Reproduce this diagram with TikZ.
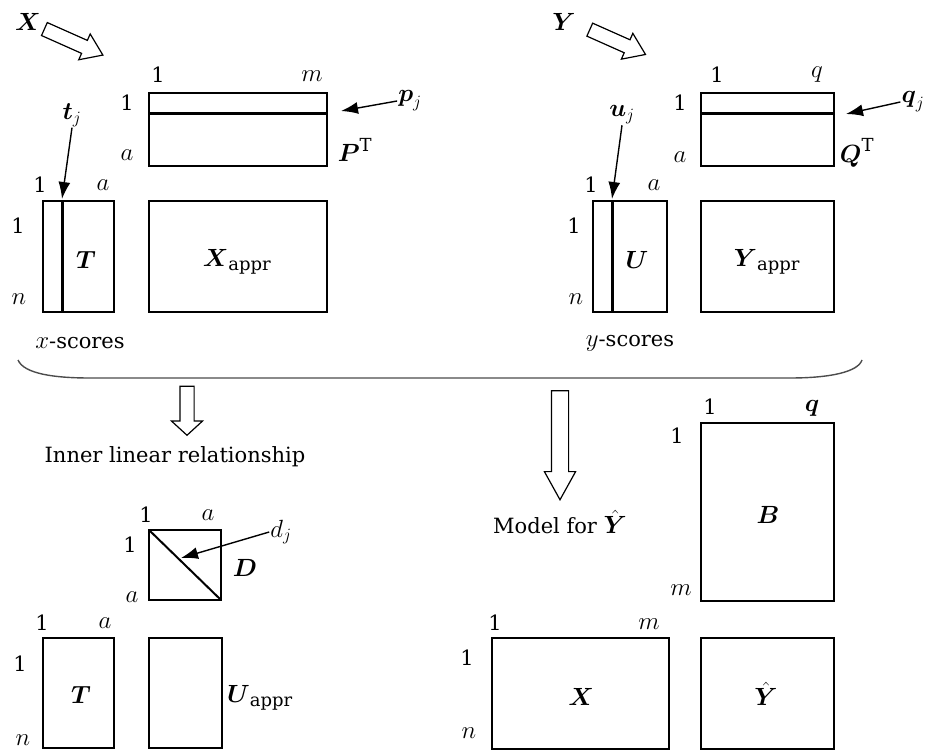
\documentclass[tikz,border=0pt]{standalone}
\usepackage{amsmath,amssymb}
\usepackage{fontspec}
\setmainfont{DejaVu Serif}
\usetikzlibrary{shapes.arrows,calc,arrows.meta}
\DeclareMathSizes{21}{24}{18}{14}

\begin{document}
\begin{tikzpicture}[x=1pt,y=-1pt,
    font=\fontsize{21}{25}\selectfont,
    every node/.style={inner sep=1pt},
    mat/.style={draw, line width=1.6pt, inner sep=0pt, outer sep=0pt, anchor=north west},
    ptr/.style={line width=1.4pt, -{Latex[length=17pt,width=12pt]}},
    bar/.style={line width=3pt},
    hollow/.style={single arrow, draw, line width=1.2pt, inner sep=6.5pt,
        single arrow head extend=7pt, single arrow tip angle=70}]
        \useasboundingbox (0,0) rectangle (929,751);
        % Input arrows
        \node (Xin) at (28,22) {$\boldsymbol{X}$};
        \node[hollow, minimum height=64pt, rotate=-24] (Xarr) at (69,40) {};
        \node (Yin) at (564,22) {$\boldsymbol{Y}$};
        \node[hollow, minimum height=61pt, rotate=-24] (Yarr) at (613,40) {};
        % Define matrices (x side)
        \node[mat, minimum width=178pt, minimum height=73pt] (PT) at (149,93) {};
        \node[mat, minimum width=71pt, minimum height=111pt] (T) at (43,201) {};
        \node[mat, minimum width=178pt, minimum height=111pt] (Xa) at (149,201) {};
        \draw[bar] ($(PT.north west)+(0,21)$) -- ($(PT.north east)+(0,21)$);
        \draw[bar] ($(T.north west)+(19,0)$) -- ($(T.south west)+(19,0)$);
        % Define matrices (y side)
        \node[mat, minimum width=133pt, minimum height=73pt] (QT) at (701,93) {};
        \node[mat, minimum width=74pt, minimum height=111pt] (U) at (593,201) {};
        \node[mat, minimum width=133pt, minimum height=111pt] (Ya) at (701,201) {};
        \draw[bar] ($(QT.north west)+(0,21)$) -- ($(QT.north east)+(0,21)$);
        \draw[bar] ($(U.north west)+(19,0)$) -- ($(U.south west)+(19,0)$);
        % Mark indices
        \node (PTc1) at (158,75) {1};
        \node (PTcm) at (312,76) {$m$};
        \node (PTr1) at (127,103) {1};
        \node (PTra) at (127,155) {$a$};
        \node (Tc1) at (40,185) {1};
        \node (Tca) at (103,185) {$a$};
        \node (Tr1) at (18,226) {1};
        \node (Trn) at (19,299) {$n$};
        \node (QTc1) at (717,75) {1};
        \node (QTcq) at (817,75) {$q$};
        \node (QTr1) at (680,103) {1};
        \node (QTra) at (680,157) {$a$};
        \node (Uc1) at (591,185) {1};
        \node (Uca) at (654,185) {$a$};
        \node (Ur1) at (574,226) {1};
        \node (Urn) at (576,299) {$n$};
        % Label the matrices
        \node (PTlab) at (355,150) {$\boldsymbol{P}^{\mathrm{T}}$};
        \node (Tlab) at (86,260) {$\boldsymbol{T}$};
        \node (Xalab) at (237,262) {$\boldsymbol{X}_{\mathrm{appr}}$};
        \node (QTlab) at (857,153) {$\boldsymbol{Q}^{\mathrm{T}}$};
        \node (Ulab) at (637,260) {$\boldsymbol{U}$};
        \node (Yalab) at (767,262) {$\boldsymbol{Y}_{\mathrm{appr}}$};
        \node (xsc) at (80,343) {$x$-scores};
        \node (ysc) at (630,343) {$y$-scores};
        % Pointers to the vectors
        \node (tj) at (72,115) {$\boldsymbol{t}_j$};
        \coordinate (tjtip) at (62,199);
        \draw[ptr] (tj.south) -- (tjtip);
        \node (pj) at (410,101) {$\boldsymbol{p}_j$};
        \coordinate (pjtip) at (341,111);
        \draw[ptr] (pj.west) -- (pjtip);
        \node (uj) at (622,115) {$\boldsymbol{u}_j$};
        \coordinate (ujtip) at (612,199);
        \draw[ptr] (uj.south) -- (ujtip);
        \node (qj) at (913,102) {$\boldsymbol{q}_j$};
        \coordinate (qjtip) at (846,114);
        \draw[ptr] (qj.west) -- (qjtip);
        % Brace
        \draw[line width=1.4pt, gray!60!black] (18,360) .. controls (24,374) and (55,378) .. (90,378)
        -- (790,378) .. controls (830,378) and (858,372) .. (862,360);
        % Down arrows
        \node[hollow, minimum height=49pt, rotate=-90, inner sep=6.5pt,
        single arrow head extend=8.5pt, single arrow tip angle=95] (inner) at (187,407.5) {};
        \node (innerlab) at (175,457) {Inner linear relationship};
        \node[hollow, minimum height=109pt, rotate=-90, inner sep=8pt,
        single arrow head extend=7pt, single arrow tip angle=58] (model) at (560,437.5) {};
        \node (modellab) at (560,522) {Model for $\hat{\boldsymbol{Y}}$};
        % Inner relation
        \node[mat, minimum width=72pt, minimum height=70pt] (D) at (149,530) {};
        \draw[line width=2pt] (D.north west) -- (D.south east);
        \node (Dc1) at (146,515) {1};
        \node (Dca) at (208,515) {$a$};
        \node (Dr1) at (130,545) {1};
        \node (Dra) at (132,597) {$a$};
        \node (Dlab) at (245,568) {$\boldsymbol{D}$};
        \node (dj) at (281,532) {$d_j$};
        \coordinate (djtip) at (181,558);
        \draw[ptr] (dj.west) -- (djtip);
        \node[mat, minimum width=71pt, minimum height=110pt] (T2) at (43,638) {};
        \node[mat, minimum width=73pt, minimum height=110pt] (Ua) at (149,638) {};
        \node (T2c1) at (42,623) {1};
        \node (T2ca) at (105,623) {$a$};
        \node (T2r1) at (20,664) {1};
        \node (T2rn) at (23,740) {$n$};
        \node (T2lab) at (81,695) {$\boldsymbol{T}$};
        \node (Ualab) at (260,698) {$\boldsymbol{U}_{\mathrm{appr}}$};
        % Model for Y hat
        \node[mat, minimum width=133pt, minimum height=178pt] (B) at (701,423) {};
        \node[mat, minimum width=177pt, minimum height=111pt] (X) at (492,638) {};
        \node[mat, minimum width=133pt, minimum height=111pt] (Yh) at (701,638) {};
        \node (Bc1) at (710,407) {1};
        \node (Bcq) at (812,408) {$\boldsymbol{q}$};
        \node (Br1) at (677,436) {1};
        \node (Brm) at (681,590) {$m$};
        \node (Xc1) at (495,623) {1};
        \node (Xcm) at (649,624) {$m$};
        \node (Xr1) at (467,658) {1};
        \node (Xrn) at (469,733) {$n$};
        \node (Blab) at (768,515) {$\boldsymbol{B}$};
        \node (Xlab) at (581,697) {$\boldsymbol{X}$};
        \node (Yhlab) at (766,694) {$\hat{\boldsymbol{Y}}$};
    \end{tikzpicture}
\end{document}
